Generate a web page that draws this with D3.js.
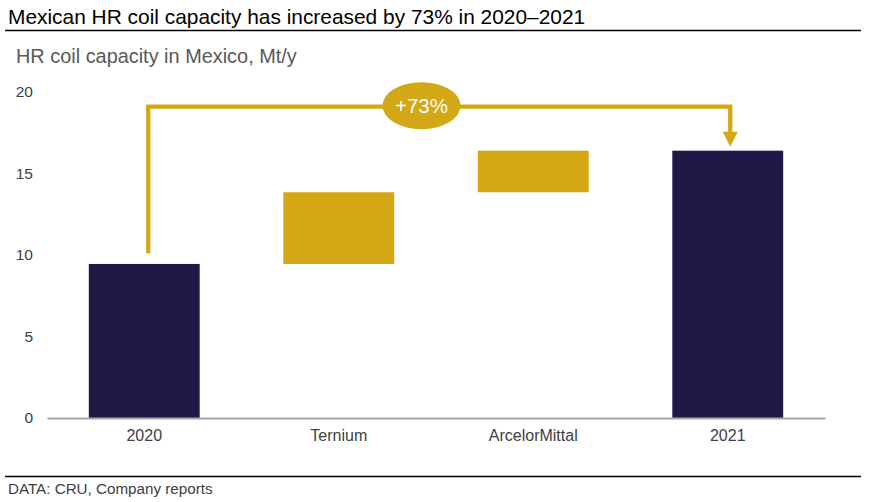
<!DOCTYPE html>
<html>
<head>
<meta charset="utf-8">
<script src="https://cdn.jsdelivr.net/npm/d3@7"></script>
<style>
  body { margin: 0; background: #fff; }
  svg { display: block; font-family: "Liberation Sans", Arial, sans-serif; }
</style>
</head>
<body>
<div id="chart"></div>
<script>
// chart data
const categories = ["2020", "Ternium", "ArcelorMittal", "2021"];
const barBase = [0, 9.45, 13.85, 0];
const barValue = [9.45, 4.4, 2.55, 16.4];
const barKind = ["total", "step", "step", "total"];
const yTicks = [0, 5, 10, 15, 20];
const changeLabel = "+73%";
const connectorStart = 10.1;   // where the bracket leaves the 2020 bar
const connectorLevel = 19.1;   // height of the bracket

const width = 873, height = 502;
const colors = { total: "#201847", step: "#d4a715" };

const svg = d3.select("#chart").append("svg")
      .attr("width", width)
      .attr("height", height);

// title + rules
svg.append("text")
      .attr("x", 8).attr("y", 23.5)
      .attr("font-size", "20.9px")
      .attr("fill", "#000")
      .text("Mexican HR coil capacity has increased by 73% in 2020\u20132021");

svg.append("line")
      .attr("x1", 5).attr("x2", 861).attr("y1", 30.5).attr("y2", 30.5)
      .attr("stroke", "#000").attr("stroke-width", 1.3);

svg.append("text")
      .attr("x", 16).attr("y", 63)
      .attr("font-size", "19.9px")
      .attr("fill", "#595959")
      .text("HR coil capacity in Mexico, Mt/y");

svg.append("line")
      .attr("x1", 5).attr("x2", 861).attr("y1", 476.5).attr("y2", 476.5)
      .attr("stroke", "#000").attr("stroke-width", 1.3);

svg.append("text")
      .attr("x", 8).attr("y", 494)
      .attr("font-size", "15.2px")
      .attr("fill", "#404040")
      .text("DATA: CRU, Company reports");

// scales
const x = d3.scaleBand()
      .domain(categories)
      .range([47, 825])
      .paddingInner(0.43)
      .paddingOuter(0.215);

const y = d3.scaleLinear()
      .domain([0, 20])
      .range([418, 92]);

// y tick labels (no axis line)
const yAxis = svg.append("g")
      .attr("transform", "translate(33,0)")
      .call(d3.axisLeft(y).tickValues(yTicks).tickSize(0).tickPadding(0));
yAxis.select(".domain").remove();
yAxis.selectAll("text")
      .attr("font-size", "15.5px")
      .attr("fill", "#404040")
      .attr("font-family", "Liberation Sans, Arial, sans-serif");

// bars
svg.append("g").selectAll("rect")
      .data(categories)
      .join("rect")
      .attr("x", d => x(d))
      .attr("width", x.bandwidth())
      .attr("y", (d, i) => y(barBase[i] + barValue[i]))
      .attr("height", (d, i) => y(barBase[i]) - y(barBase[i] + barValue[i]))
      .attr("fill", (d, i) => colors[barKind[i]]);

// x axis
const xAxis = svg.append("g")
      .attr("transform", "translate(0," + y(0) + ")")
      .call(d3.axisBottom(x).tickSize(0).tickPadding(12));
xAxis.select(".domain")
      .attr("stroke", "#a6a6a6")
      .attr("stroke-width", 2);
xAxis.selectAll("text")
      .attr("font-size", "16px")
      .attr("fill", "#404040")
      .attr("font-family", "Liberation Sans, Arial, sans-serif");

// growth bracket
const first = categories[0], last = categories[categories.length - 1];
const xa = x(first) + x.bandwidth() / 2 + 4;
const xb = x(last) + x.bandwidth() / 2 + 2.5;
const lastTop = barBase[3] + barValue[3];
const arrowTip = y(lastTop) - 4;

svg.append("path")
      .attr("d", d3.line()([
            [xa, y(connectorStart)],
            [xa, y(connectorLevel)],
            [xb, y(connectorLevel)],
            [xb, arrowTip - 12]
      ]))
      .attr("fill", "none")
      .attr("stroke", colors.step)
      .attr("stroke-width", 4.3);

svg.append("path")
      .attr("d", d3.line()([
            [xb - 7.5, arrowTip - 15],
            [xb + 7.5, arrowTip - 15],
            [xb, arrowTip]
      ]) + "Z")
      .attr("fill", colors.step);

svg.append("ellipse")
      .attr("cx", 421.5)
      .attr("cy", y(connectorLevel) - 1)
      .attr("rx", 39)
      .attr("ry", 23.5)
      .attr("fill", colors.step);

svg.append("text")
      .attr("x", 421.5)
      .attr("y", y(connectorLevel) - 1)
      .attr("dy", "0.35em")
      .attr("text-anchor", "middle")
      .attr("font-size", "20.5px")
      .attr("fill", "#fff")
      .text(changeLabel);
</script>
</body>
</html>
